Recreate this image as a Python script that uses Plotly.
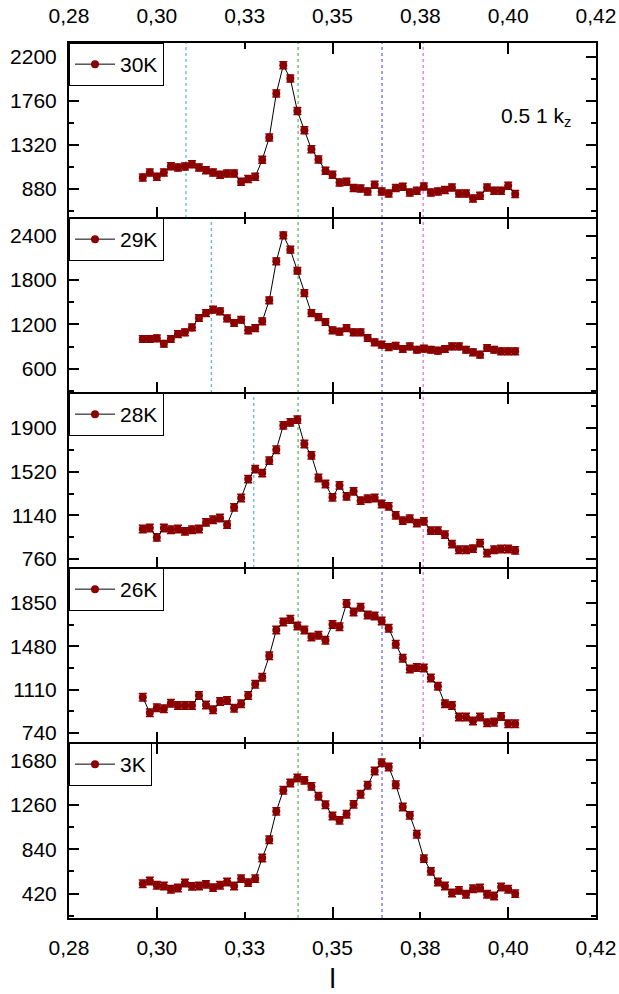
import plotly.graph_objects as go

# ---------------- data ----------------
l_values = [0.296, 0.298, 0.300, 0.302, 0.304, 0.306, 0.308, 0.310, 0.312, 0.314,
            0.316, 0.318, 0.320, 0.322, 0.324, 0.326, 0.328, 0.330, 0.332, 0.334,
            0.336, 0.338, 0.340, 0.342, 0.344, 0.346, 0.348, 0.350, 0.352, 0.354,
            0.356, 0.358, 0.360, 0.362, 0.364, 0.366, 0.368, 0.370, 0.372, 0.374,
            0.376, 0.378, 0.380, 0.382, 0.384, 0.386, 0.388, 0.390, 0.392, 0.394,
            0.396, 0.398, 0.400, 0.402]

int_30K = [992, 1042, 998, 1042, 1105, 1092, 1102, 1125, 1092, 1065,
           1042, 1018, 1032, 1032, 948, 975, 998, 1169, 1392, 1833,
           2117, 1983, 1659, 1466, 1275, 1172, 1058, 1018, 942, 948,
           885, 881, 851, 918, 851, 831, 885, 898, 841, 858,
           901, 841, 851, 865, 891, 831, 831, 781, 808, 891,
           858, 858, 908, 825]
int_29K = [1002, 1002, 1011, 938, 1002, 1069, 1092, 1159, 1286, 1353,
           1399, 1376, 1281, 1218, 1263, 1119, 1150, 1241, 1525, 2053,
           2405, 2211, 1926, 1624, 1353, 1299, 1232, 1119, 1101, 1150,
           1092, 1092, 1015, 957, 925, 893, 911, 866, 902, 857,
           871, 857, 844, 866, 902, 902, 857, 821, 790, 880,
           857, 835, 835, 835]
int_28K = [1021, 1030, 948, 1030, 1015, 1021, 1001, 1015, 1021, 1079,
           1102, 1117, 1059, 1210, 1291, 1456, 1543, 1508, 1616, 1711,
           1923, 1949, 1973, 1761, 1662, 1465, 1413, 1297, 1401, 1305,
           1349, 1268, 1285, 1291, 1239, 1218, 1140, 1094, 1111, 1073,
           1088, 1007, 1007, 972, 890, 841, 841, 850, 899, 812,
           841, 847, 847, 835]
int_26K = [1045, 912, 955, 946, 994, 975, 975, 975, 1059, 980,
           938, 1008, 1017, 952, 989, 1059, 1155, 1215, 1398, 1618,
           1686, 1709, 1652, 1618, 1559, 1573, 1531, 1666, 1647, 1844,
           1771, 1813, 1746, 1737, 1695, 1633, 1497, 1378, 1285, 1299,
           1294, 1209, 1138, 989, 975, 876, 876, 842, 876, 828,
           833, 881, 819, 819]
int_3K = [514, 540, 499, 492, 461, 474, 521, 489, 492, 508,
          477, 499, 530, 492, 562, 524, 562, 757, 930, 1198,
          1397, 1466, 1513, 1491, 1434, 1340, 1261, 1154, 1113, 1170,
          1264, 1359, 1444, 1579, 1658, 1617, 1450, 1239, 1160, 981,
          751, 631, 530, 492, 426, 451, 414, 467, 474, 414,
          398, 483, 461, 420]

series_names = ["30K", "29K", "28K", "26K", "3K"]
series_values = [int_30K, int_29K, int_28K, int_26K, int_3K]
error_values = [35, 45, 32, 32, 35]

y_ranges = [[585, 2340], [271, 2640], [682, 2205], [655, 2147], [190, 1844]]
y_dticks = [440, 600, 380, 370, 420]

x_tick_vals = [0.275, 0.300, 0.325, 0.350, 0.375, 0.400, 0.425]
x_tick_text = ["0,28", "0,30", "0,33", "0,35", "0,38", "0,40", "0,42"]
x_major = [0.300, 0.350, 0.400]
x_minor = [0.325, 0.375]
x_range = [0.275, 0.425]

# reference lines (L positions)
teal_lines = [0.3083, 0.3155, 0.3276, None, None]
green_line = 0.3402
blue_line = 0.3641
magenta_line = 0.3758
magenta_panels = [0, 1, 2, 3]

# ---------------- figure ----------------
FONT = "Liberation Sans, Arial, sans-serif"
tickfont = dict(family=FONT, size=21, color="black")

fig = go.Figure()
npan = 5
for i in range(npan):
    sfx = "" if i == 0 else str(i + 1)
    fig.add_trace(go.Scatter(
        x=l_values, y=series_values[i], mode="lines+markers", name=series_names[i],
        xaxis="x" + sfx, yaxis="y" + sfx, legend="legend" + sfx,
        line=dict(color="black", width=1),
        marker=dict(color="#8b0000", size=8, line=dict(width=0)),
        error_y=dict(type="constant", value=error_values[i], color="#8b0000",
                     thickness=1.5, width=4),
    ))

# empty carriers so the label-only axes get drawn
fig.add_trace(go.Scatter(x=[], y=[], xaxis="x6", yaxis="y", showlegend=False,
                         hoverinfo="skip"))
fig.add_trace(go.Scatter(x=[], y=[], xaxis="x7", yaxis="y5", showlegend=False,
                         hoverinfo="skip"))

layout = dict(
    width=619, height=994,
    margin=dict(l=69, r=23, t=43, b=76, autoexpand=False),
    paper_bgcolor="white", plot_bgcolor="white",
    font=dict(family=FONT, size=20, color="black"),
    showlegend=True,
)

for i in range(npan):
    sfx = "" if i == 0 else str(i + 1)
    top = 1 - i / npan
    bot = 1 - (i + 1) / npan
    layout["xaxis" + sfx] = dict(
        domain=[0, 1], anchor="y" + sfx, range=x_range, automargin=False,
        showline=True, linecolor="black", linewidth=1, mirror="ticks",
        tickmode="array", tickvals=x_major, ticks="inside", ticklen=11,
        tickwidth=2, tickcolor="black", showticklabels=False,
        showgrid=False, zeroline=False,
        minor=dict(tickmode="array", tickvals=x_minor, ticks="inside",
                   ticklen=6, tickwidth=2, tickcolor="black", showgrid=False),
    )
    d = y_dticks[i]
    layout["yaxis" + sfx] = dict(
        domain=[bot, top], anchor="x" + sfx, range=y_ranges[i], automargin=False,
        showline=True, linecolor="black", linewidth=2, mirror="ticks",
        tickmode="linear", tick0=0, dtick=d, ticks="inside", ticklen=10,
        tickwidth=2, tickcolor="black", tickfont=tickfont,
        ticklabelstandoff=6,
        showgrid=False, zeroline=False,
        minor=dict(tick0=0, dtick=d / 2, ticks="inside", ticklen=5,
                   tickwidth=2, tickcolor="black", showgrid=False),
    )
    layout["legend" + sfx] = dict(
        x=0, y=top, xref="paper", yref="paper", xanchor="left", yanchor="top",
        bgcolor="white", bordercolor="black", borderwidth=1, itemwidth=40,
        font=dict(family=FONT, size=21, color="black"),
    )

# label axes (top of first panel, bottom of last panel); their lines thicken the outer frame
layout["xaxis6"] = dict(
    overlaying="x", anchor="y", side="top", range=x_range, automargin=False,
    tickmode="array", tickvals=x_tick_vals, ticktext=x_tick_text,
    ticks="", showline=True, linecolor="black", linewidth=2,
    showgrid=False, zeroline=False,
    tickfont=tickfont, ticklabelstandoff=10,
)
layout["xaxis7"] = dict(
    overlaying="x5", anchor="y5", side="bottom", range=x_range, automargin=False,
    tickmode="array", tickvals=x_tick_vals, ticktext=x_tick_text,
    ticks="", showline=True, linecolor="black", linewidth=2,
    showgrid=False, zeroline=False,
    tickfont=tickfont, ticklabelstandoff=10,
    title=dict(text="l", font=dict(family=FONT, size=28, color="black"), standoff=18),
)

fig.update_layout(**layout)

# dotted reference lines
def vline(xv, sfx, color):
    fig.add_shape(type="line", xref="x" + sfx, yref="y" + sfx + " domain",
                  x0=xv, x1=xv, y0=0, y1=1,
                  line=dict(color=color, width=1, dash="dot"), layer="below")

for i in range(npan):
    sfx = "" if i == 0 else str(i + 1)
    if teal_lines[i] is not None:
        vline(teal_lines[i], sfx, "#30a8b0")
    vline(green_line, sfx, "#30a030")
    vline(blue_line, sfx, "#3c3ce0")
    if i in magenta_panels:
        vline(magenta_line, sfx, "#e040e0")

fig.add_annotation(
    text="0.5 1 k<sub>z</sub>", xref="x domain", yref="y domain",
    x=0.956, y=0.58, xanchor="right", yanchor="middle", showarrow=False,
    font=dict(family=FONT, size=21, color="black"),
)

fig.write_html("out.html")
